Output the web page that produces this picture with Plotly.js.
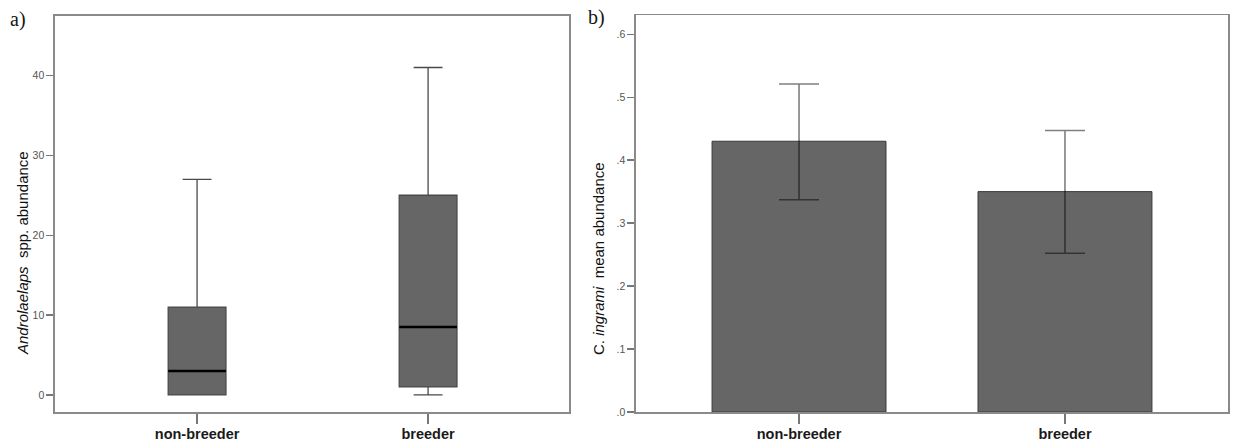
<!DOCTYPE html>
<html>
<head>
<meta charset="utf-8">
<script src="https://cdn.plot.ly/plotly-3.0.1.min.js"></script>
<style>
  html, body { margin: 0; padding: 0; background: #ffffff; }
  #chart { width: 1233px; height: 445px; }
</style>
</head>
<body>
<div id="chart"></div>
<script>
// Groups shown on both panels
const groups = ['non-breeder', 'breeder'];

// Panel a): Androlaelaps spp. abundance, box summary per group
const boxLowerFence = [0, 0];
const boxQ1 = [0, 1];
const boxMedian = [3, 8.5];
const boxQ3 = [11, 25];
const boxUpperFence = [27, 41];
const leftTickVals = [0, 10, 20, 30, 40];

// Panel b): C. ingrami mean abundance with error bar limits
const meanAbundance = [0.43, 0.35];
const errUpper = [0.521, 0.447];
const errLower = [0.337, 0.252];
const rightTickVals = [0, 0.1, 0.2, 0.3, 0.4, 0.5, 0.6];
const rightTickText = ['.0', '.1', '.2', '.3', '.4', '.5', '.6'];

const frameColor = '#8a8a8a';
const sans = 'Liberation Sans, Arial, sans-serif';

const boxTrace = {
  type: 'box',
  x: groups,
  q1: boxQ1,
  median: boxMedian,
  q3: boxQ3,
  lowerfence: boxLowerFence,
  upperfence: boxUpperFence,
  width: 0.25,
  whiskerwidth: 0.5,
  boxpoints: false,
  fillcolor: '#666666',
  line: { color: '#4a4a4a', width: 1.3 },
  hoverinfo: 'skip',
  showlegend: false,
  xaxis: 'x', yaxis: 'y'
};

// Heavy median stroke drawn as a flat box on top of the filled one
const medianTrace = {
  type: 'box',
  x: groups,
  q1: boxMedian,
  median: boxMedian,
  q3: boxMedian,
  lowerfence: boxMedian,
  upperfence: boxMedian,
  width: 0.25,
  whiskerwidth: 0,
  boxpoints: false,
  fillcolor: 'rgba(0,0,0,0)',
  line: { color: '#000000', width: 2.6 },
  hoverinfo: 'skip',
  showlegend: false,
  xaxis: 'x', yaxis: 'y'
};

const barTrace = {
  type: 'bar',
  x: groups,
  y: meanAbundance,
  width: 0.654,
  marker: { color: '#666666', line: { color: '#3a3a3a', width: 1 } },
  error_y: {
    type: 'data',
    symmetric: false,
    array: errUpper.map((u, i) => u - meanAbundance[i]),
    arrayminus: errLower.map((l, i) => meanAbundance[i] - l),
    color: 'rgba(0,0,0,0.5)',
    thickness: 1.6,
    width: 20
  },
  hoverinfo: 'skip',
  showlegend: false,
  xaxis: 'x2', yaxis: 'y2'
};

const commonX = {
  type: 'category',
  showline: true, mirror: true,
  linecolor: frameColor, linewidth: 1.6,
  showgrid: false, zeroline: false,
  ticks: 'outside', ticklen: 10, tickwidth: 1.3, tickcolor: '#777777',
  ticklabelstandoff: -2,
  tickfont: { family: sans, size: 14.5, color: '#1a1a1a', weight: 'bold' },
  fixedrange: true
};
const commonY = {
  showline: true, mirror: true,
  linecolor: frameColor, linewidth: 1.6,
  showgrid: false, zeroline: false,
  ticks: 'outside', ticklen: 7, tickwidth: 1.3, tickcolor: '#777777',
  tickfont: { family: sans, size: 10.5, color: '#555555' },
  fixedrange: true
};

const layout = {
  width: 1233, height: 445,
  margin: { l: 0, r: 0, t: 0, b: 0 },
  paper_bgcolor: '#ffffff', plot_bgcolor: '#ffffff',
  showlegend: false,
  boxmode: 'overlay',
  xaxis: Object.assign({}, commonX, {
    domain: [55 / 1233, 569 / 1233],
    range: [-0.615, 1.61],
    anchor: 'y'
  }),
  yaxis: Object.assign({}, commonY, {
    domain: [33 / 445, 429 / 445],
    range: [-2.14, 47.45],
    tickvals: leftTickVals,
    anchor: 'x'
  }),
  xaxis2: Object.assign({}, commonX, {
    domain: [636 / 1233, 1228 / 1233],
    range: [-0.613, 1.613],
    anchor: 'y2'
  }),
  yaxis2: Object.assign({}, commonY, {
    domain: [33 / 445, 429.7 / 445],
    range: [0, 0.63],
    tickvals: rightTickVals,
    ticktext: rightTickText,
    anchor: 'x2'
  }),
  annotations: [
    {
      text: 'a)', xref: 'paper', yref: 'paper',
      x: 8 / 1233, y: 1 - 6 / 445, xanchor: 'left', yanchor: 'top',
      showarrow: false,
      font: { family: 'Liberation Serif, Times New Roman, serif', size: 20, color: '#151515' }
    },
    {
      text: 'b)', xref: 'paper', yref: 'paper',
      x: 586 / 1233, y: 1 - 4 / 445, xanchor: 'left', yanchor: 'top',
      showarrow: false,
      font: { family: 'Liberation Serif, Times New Roman, serif', size: 20, color: '#151515' }
    },
    {
      text: '<i>Androlaelaps</i>\u00a0\u00a0spp. abundance', xref: 'paper', yref: 'paper',
      x: 22 / 1233, y: 1 - 253 / 445, xanchor: 'center', yanchor: 'middle',
      textangle: -90, showarrow: false,
      font: { family: sans, size: 15, color: '#111111' }
    },
    {
      text: 'C. <i>ingrami</i>\u00a0\u00a0mean abundance', xref: 'paper', yref: 'paper',
      x: 598 / 1233, y: 1 - 259 / 445, xanchor: 'center', yanchor: 'middle',
      textangle: -90, showarrow: false,
      font: { family: sans, size: 15, color: '#111111' }
    }
  ]
};

Plotly.newPlot('chart', [boxTrace, medianTrace, barTrace], layout, { displayModeBar: false, staticPlot: true });
</script>
</body>
</html>
